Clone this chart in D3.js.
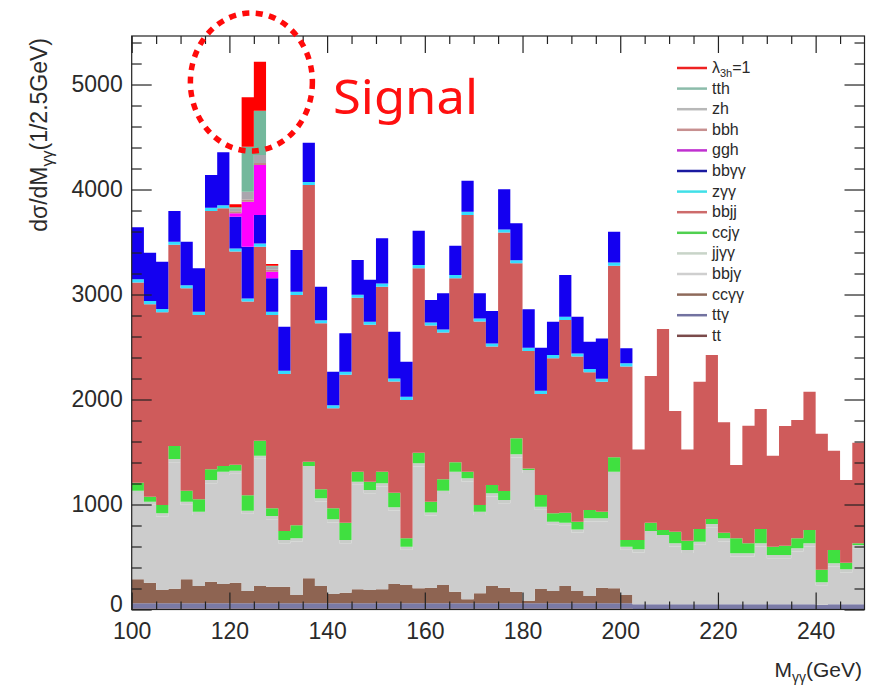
<!DOCTYPE html>
<html>
<head>
<meta charset="utf-8">
<script src="https://cdn.jsdelivr.net/npm/d3@7"></script>
<style>
  body { margin: 0; background: #fff; }
  text { font-family: "Liberation Sans", Arial, sans-serif; fill: #2a2a2a; }
</style>
</head>
<body>
<svg id="chart" width="871" height="687"></svg>
<script>
// histogram binning: 60 bins of 2.5 GeV from 100 to 250
const binWidth = 2.5;
const binLow = d3.range(100, 250, binWidth);

// per-bin values (dsigma/dM, 1/2.5GeV), stacked bottom -> top
const tt   = [10,10,10,10,10,10,10,10,10,10,10,10,10,10,10,10,10,10,10,10,10,10,10,10,10,10,10,10,10,10,10,10,10,10,10,10,10,10,10,10,10,
              5,5,5,5,5,5,5,5,5,5,5,5,5,5,5,5,5,5,5];
const ttg  = [50,50,50,50,50,50,50,50,50,50,50,50,50,50,50,50,50,50,50,50,50,50,50,50,50,50,50,50,50,50,50,50,50,50,50,50,50,50,50,50,50,
              45,45,45,45,45,45,45,45,45,45,45,45,45,45,45,40,45,45,45];
const ccgg = [227,195,126,138,227,164,205,183,195,116,164,157,157,78,237,164,88,100,132,126,132,183,173,142,148,173,110,37,94,164,148,110,24,135,116,164,116,69,148,142,78,
              0,0,0,0,0,0,0,0,0,0,0,0,0,0,0,0,0,0,0];
const bbjg = [814,742,700,1205,710,677,938,1039,1037,735,1211,643,415,510,1040,805,681,472,995,922,980,700,335,1160,687,868,1112,1123,747,853,805,1278,1215,754,630,573,557,709,630,1080,430,
              493,668,630,550,487,566,734,598,455,455,550,439,439,503,550,185,360,303,534];
const jjgg = [30,30,30,30,30,30,30,30,30,30,30,30,30,30,30,30,30,30,30,30,30,30,30,30,30,30,30,30,30,30,30,30,30,30,30,30,30,30,30,30,30,
              30,30,30,30,30,30,30,30,30,30,30,30,30,30,30,30,30,30,30];
const ccjg = [77,47,79,124,104,118,102,55,57,147,143,74,86,124,41,86,105,165,95,79,110,139,80,101,102,109,90,62,64,79,86,152,15,111,80,95,73,80,63,137,64,
              89,79,47,111,88,121,48,53,143,95,137,79,89,95,127,118,127,63,16];
const bbjj = [1907,1833,1836,1916,1928,1757,2461,2454,2030,1845,1847,1842,1496,2194,2634,1581,952,1408,1656,1494,1763,1059,1318,1757,1677,1397,1753,2446,1747,1318,2461,1667,1119,963,1477,1836,1573,1312,1237,1826,1653,
              863,1397,1914,1149,870,1403,1562,1052,698,1121,1143,867,1140,1127,1317,1295,945,787,957];
const zgg  = [30,30,30,30,30,30,30,30,30,30,30,30,30,30,30,30,30,30,30,30,30,30,30,30,30,30,30,30,30,30,30,30,30,30,30,30,30,30,30,30,30,
              0,0,0,0,0,0,0,0,0,0,0,0,0,0,0,0,0,0,0];
const bbgg = [495,461,451,292,414,414,312,503,302,492,272,318,419,398,374,318,319,365,331,399,430,445,334,328,214,344,280,296,239,309,382,351,366,411,318,398,350,261,382,293,142,
              0,0,0,0,0,0,0,0,0,0,0,0,0,0,0,0,0,0,0];
const ggh  = [0,0,0,0,0,0,0,0,32,429,476,63,0,0,0,0,0,0,0,0,0,0,0,0,0,0,0,0,0,0,0,0,0,0,0,0,0,0,0,0,0,0,0,0,0,0,0,0,0,0,0,0,0,0,0,0,0,0,0,0];
const bbh  = [0,0,0,0,0,0,0,0,20,20,20,18,0,0,0,0,0,0,0,0,0,0,0,0,0,0,0,0,0,0,0,0,0,0,0,0,0,0,0,0,0,0,0,0,0,0,0,0,0,0,0,0,0,0,0,0,0,0,0,0];
const zh   = [0,0,0,0,0,0,0,0,28,75,76,30,0,0,0,0,0,0,0,0,0,0,0,0,0,0,0,0,0,0,0,0,0,0,0,0,0,0,0,0,0,0,0,0,0,0,0,0,0,0,0,0,0,0,0,0,0,0,0,0];
const tth  = [0,0,0,0,0,0,0,0,10,429,422,10,0,0,0,0,0,0,0,0,0,0,0,0,0,0,0,0,0,0,0,0,0,0,0,0,0,0,0,0,0,0,0,0,0,0,0,0,0,0,0,0,0,0,0,0,0,0,0,0];
const signal = [0,0,0,0,0,0,0,0,28,470,466,15,0,0,0,0,0,0,0,0,0,0,0,0,0,0,0,0,0,0,0,0,0,0,0,0,0,0,0,0,0,0,0,0,0,0,0,0,0,0,0,0,0,0,0,0,0,0,0,0];

const yTicks = [0, 1000, 2000, 3000, 4000, 5000];
const xTicks = [100, 120, 140, 160, 180, 200, 220, 240];

// legend entries, top to bottom (as in the plot)
const legendKeys   = ['signal','tth','zh','bbh','ggh','bbgg','zgg','bbjj','ccjg','jjgg','bbjg','ccgg','ttg','tt'];
const legendLabels = [['λ','3h','=1'],['tth'],['zh'],['bbh'],['ggh'],['bbγγ'],['zγγ'],['bbjj'],['ccjγ'],['jjγγ'],['bbjγ'],['ccγγ'],['ttγ'],['tt']];

const series = { tt, ttg, ccgg, bbjg, jjgg, ccjg, bbjj, zgg, bbgg, ggh, bbh, zh, tth, signal };
const stackKeys = ['tt','ttg','ccgg','bbjg','jjgg','ccjg','bbjj','zgg','bbgg','ggh','bbh','zh','tth','signal'];

const fillColor = {
  tt: '#6e3c3c', ttg: '#7a7aa6', ccgg: '#8e6452', bbjg: '#cccccc', jjgg: '#c9cdc9',
  ccjg: '#40e040', bbjj: '#cf5b5b', zgg: '#33dcff', bbgg: '#1400f0', ggh: '#ff00ff',
  bbh: '#c08888', zh: '#aaa6ae', tth: '#73b89c', signal: '#ff0000'
};
const legendColor = {
  signal: '#ee2222', tth: '#8cbcaa', zh: '#b8b8b8', bbh: '#c79090', ggh: '#c030d0',
  bbgg: '#1a1aa0', zgg: '#40e0e8', bbjj: '#cd6b6b', ccjg: '#50d050', jjgg: '#c8d4c8',
  bbjg: '#cfcfcf', ccgg: '#8e6a5a', ttg: '#7272a0', tt: '#7a4a4a'
};

const config = { width: 871, height: 687, left: 131.7, right: 864.5, top: 36, bottom: 609.5 };

const svg = d3.select('#chart');

const xScale = d3.scaleLinear().domain([100, 250]).range([config.left, config.right]);
const yScale = d3.scaleLinear().domain([0, 5462]).range([config.bottom, config.top]);

// build table for the stack
const table = binLow.map((x, i) => {
  const row = { x };
  for (const k of stackKeys) row[k] = series[k][i];
  return row;
});
const stacked = d3.stack().keys(stackKeys)(table);

svg.append('clipPath').attr('id', 'plotClip')
  .append('rect')
  .attr('x', config.left).attr('y', config.top)
  .attr('width', config.right - config.left).attr('height', config.bottom - config.top);

const area = d3.area()
  .x(d => xScale(d.x))
  .y0(d => yScale(d.y0))
  .y1(d => yScale(d.y1))
  .curve(d3.curveStepAfter);

const plot = svg.append('g').attr('clip-path', 'url(#plotClip)');

for (const layer of stacked) {
  const pts = layer.map(d => ({ x: d.data.x, y0: d[0], y1: d[1] }));
  const last = pts[pts.length - 1];
  pts.push({ x: last.x + binWidth, y0: last.y0, y1: last.y1 });
  plot.append('path')
    .datum(pts)
    .attr('fill', fillColor[layer.key])
    .attr('d', area);
}

// frame
svg.append('rect')
  .attr('x', config.left).attr('y', config.top)
  .attr('width', config.right - config.left).attr('height', config.bottom - config.top)
  .attr('fill', 'none').attr('stroke', '#222').attr('stroke-width', 1.2);

// axes (ROOT style, ticks inside)
const yMinor = d3.range(0, 5462, 200).filter(v => v % 1000 !== 0);
const xMinor = d3.range(100, 250, 5).filter(v => v % 20 !== 0);

function tickAxis(axis, transform, labels) {
  const g = svg.append('g').attr('transform', transform).call(axis);
  g.select('.domain').remove();
  g.selectAll('line').attr('stroke', '#222').attr('stroke-width', 1.2);
  if (!labels) g.selectAll('text').remove();
  return g;
}

const yLab = tickAxis(d3.axisLeft(yScale).tickValues(yTicks).tickSize(-20).tickPadding(9).tickFormat(d3.format('d')),
  `translate(${config.left},0)`, true);
yLab.selectAll('text').style('font-size', '23px').attr('fill', '#2a2a2a');
// ROOT puts the "0" label just above the x labels
yLab.selectAll('text').filter(d => d === 0).attr('dy', '0.1em');
tickAxis(d3.axisLeft(yScale).tickValues(yMinor).tickSize(-10), `translate(${config.left},0)`, false);
tickAxis(d3.axisRight(yScale).tickValues(yTicks).tickSize(-20), `translate(${config.right},0)`, false);
tickAxis(d3.axisRight(yScale).tickValues(yMinor).tickSize(-10), `translate(${config.right},0)`, false);

const xLab = tickAxis(d3.axisBottom(xScale).tickValues(xTicks).tickSize(-17).tickPadding(8).tickFormat(d3.format('d')),
  `translate(0,${config.bottom})`, true);
xLab.selectAll('text').style('font-size', '23px').attr('fill', '#2a2a2a').attr('dy', '0.95em');
tickAxis(d3.axisBottom(xScale).tickValues(xMinor).tickSize(-8), `translate(0,${config.bottom})`, false);
tickAxis(d3.axisTop(xScale).tickValues(xTicks).tickSize(-17), `translate(0,${config.top})`, false);
tickAxis(d3.axisTop(xScale).tickValues(xMinor).tickSize(-8), `translate(0,${config.top})`, false);

// axis titles
const yTitle = svg.append('text')
  .attr('transform', `translate(47,38) rotate(-90)`)
  .attr('text-anchor', 'end')
  .style('font-size', '23px');
yTitle.append('tspan').text('dσ/dM');
yTitle.append('tspan').attr('dy', 6).style('font-size', '16px').text('γγ');
yTitle.append('tspan').attr('dy', -6).text('(1/2.5GeV)');

const xTitle = svg.append('text')
  .attr('x', 862).attr('y', 677)
  .attr('text-anchor', 'end')
  .style('font-size', '21px');
xTitle.append('tspan').text('M');
xTitle.append('tspan').attr('dy', 5).style('font-size', '14px').text('γγ');
xTitle.append('tspan').attr('dy', -5).text('(GeV)');

// legend
const legend = svg.append('g');
legendKeys.forEach((k, i) => {
  const yy = 68 + i * 20.6;
  legend.append('line')
    .attr('x1', 677).attr('x2', 707).attr('y1', yy).attr('y2', yy)
    .attr('stroke', legendColor[k]).attr('stroke-width', 2.5);
  const t = legend.append('text')
    .attr('x', 712).attr('y', yy + 5)
    .style('font-size', '16px')
    .attr('fill', '#3a3a3a');
  const parts = legendLabels[i];
  t.append('tspan').text(parts[0]);
  if (parts.length > 1) {
    t.append('tspan').attr('dy', 4).style('font-size', '11px').text(parts[1]);
    t.append('tspan').attr('dy', -4).text(parts[2]);
  }
});

// signal annotation
svg.append('ellipse')
  .attr('cx', xScale(124.5)).attr('cy', 82)
  .attr('rx', 61).attr('ry', 69)
  .attr('fill', 'none')
  .attr('stroke', '#ff0a0a')
  .attr('stroke-width', 5.5)
  .attr('stroke-dasharray', '7,6.5');

svg.append('text')
  .attr('x', 333).attr('y', 114)
  .attr('textLength', 145)
  .attr('lengthAdjust', 'spacingAndGlyphs')
  .style('font-family', '"Noto Sans", sans-serif')
  .style('font-size', '48px')
  .style('fill', '#ff1010')
  .text('Signal');
</script>
</body>
</html>
